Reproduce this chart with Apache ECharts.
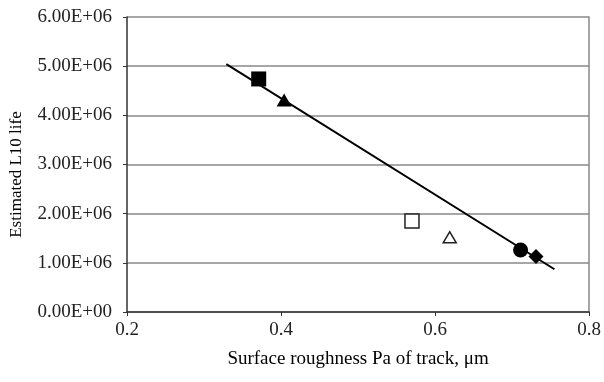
<!doctype html>
<html>
<head>
  <meta charset="utf-8">
  <title>L10 life vs roughness</title>
  <script src="https://cdn.jsdelivr.net/npm/echarts@6/dist/echarts.min.js"></script>
  <style>
    html, body { margin: 0; padding: 0; background: #fff; }
    #main { width: 604px; height: 382px; }
  </style>
</head>
<body>
<div id="main"></div>
<script>
// measured points (roughness um, L10 life)
var filledSquare = [[0.371, 4.74e6]];
var filledTriangle = [[0.404, 4.31e6]];
var openSquare = [[0.570, 1.85e6]];
var openTriangle = [[0.619, 1.52e6]];
var filledCircle = [[0.711, 1.26e6]];
var filledDiamond = [[0.731, 1.13e6]];
// linear trend line end points
var trendLine = [[0.329, 5.04e6], [0.755, 0.87e6]];
var xTicks = [0.2, 0.4, 0.6, 0.8];

var font = 'Liberation Serif';
var triPath = 'path://M0,10 L5.774,0 L11.547,10 Z';

function pts(data, symbol, size, filled) {
  return {
    type: 'scatter',
    data: data,
    symbol: symbol,
    symbolSize: size,
    z: 5,
    itemStyle: filled
      ? { color: '#000', borderColor: '#000', borderWidth: 0, opacity: 1 }
      : { color: '#fff', borderColor: '#222', borderWidth: 1.5, opacity: 1 }
  };
}

var myChart = echarts.init(document.getElementById('main'));
var option = {
  animation: false,
  grid: { left: 126, right: 14, top: 17, bottom: 70 },
  xAxis: {
    type: 'value',
    min: 0.2, max: 0.8, interval: 0.2,
    name: 'Surface roughness Pa of track, \u03bcm',
    nameLocation: 'middle',
    nameGap: 38,
    nameTextStyle: { fontFamily: font, fontSize: 19, color: '#000' },
    axisLine: { show: true, onZero: false, lineStyle: { color: '#333', width: 1.5 } },
    axisTick: { show: true, length: 4, lineStyle: { color: '#333' } },
    axisLabel: {
      fontFamily: font, fontSize: 19, color: '#222', margin: 9,
      formatter: function (v) { return xTicks.indexOf(Math.round(v * 10) / 10) >= 0 ? v.toFixed(1) : ''; }
    },
    splitLine: { show: false }
  },
  yAxis: [{
    type: 'value',
    min: 0, max: 6e6, interval: 1e6,
    name: 'Estimated L10 life',
    nameLocation: 'middle',
    nameGap: 102,
    nameRotate: 90,
    nameTextStyle: { fontFamily: font, fontSize: 17, color: '#000', padding: [0, 20, 0, 0] },
    axisLine: { show: true, lineStyle: { color: '#333', width: 1.5 } },
    axisTick: { show: true, length: 4, lineStyle: { color: '#333' } },
    axisLabel: {
      fontFamily: font, fontSize: 19, color: '#222', margin: 15,
      formatter: function (v) { return v.toExponential(2).replace('e+', 'E+0'); }
    },
    splitLine: { show: true, lineStyle: { color: '#888', width: 1.5 } }
  }, {
    type: 'value',
    position: 'right',
    min: 0, max: 6e6,
    axisLine: { show: true, lineStyle: { color: '#888', width: 1.5 } },
    axisTick: { show: false },
    axisLabel: { show: false },
    splitLine: { show: false }
  }],
  series: [
    {
      type: 'line',
      data: trendLine,
      symbol: 'none',
      lineStyle: { color: '#000', width: 2 },
      z: 3
    },
    pts(filledSquare, 'rect', 15, true),
    pts(filledTriangle, triPath, [15, 13], true),
    pts(openSquare, 'rect', 14, false),
    pts(openTriangle, triPath, [13, 11], false),
    pts(filledCircle, 'circle', 15, true),
    pts(filledDiamond, 'diamond', 15, true)
  ]
};
myChart.setOption(option);
</script>
</body>
</html>
